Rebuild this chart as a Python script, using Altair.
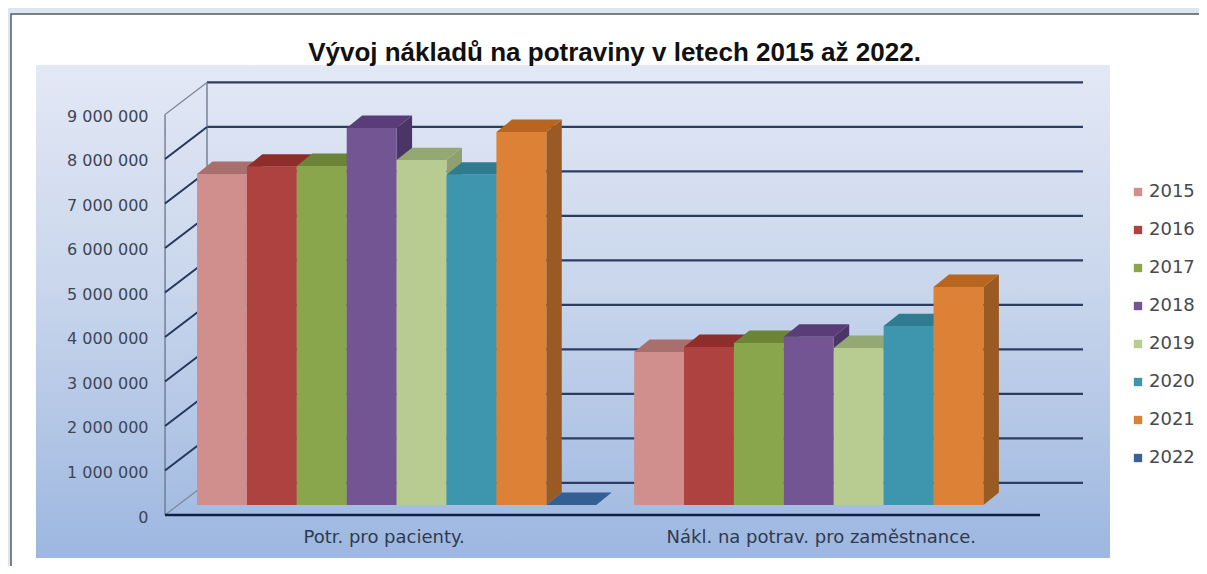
import altair as alt
import pandas as pd

TITLE = "Vývoj nákladů na potraviny v letech 2015 až 2022."
CATEGORIES = ["Potr. pro pacienty.", "Nákl. na potrav. pro zaměstnance."]
YEARS = ["2015", "2016", "2017", "2018", "2019", "2020", "2021", "2022"]
PATIENTS = [7440000, 7600000, 7620000, 8470000, 7750000, 7420000, 8380000, 0]
STAFF = [3440000, 3550000, 3640000, 3780000, 3530000, 4020000, 4900000, None]
TICKS = [0, 1000000, 2000000, 3000000, 4000000, 5000000, 6000000, 7000000, 8000000, 9000000]
FRONT = ["#d08f8d", "#ae4240", "#8aa64d", "#745594", "#b8cc92", "#3d96ae", "#dd8136", "#3a6296"]
TOP = ["#a86f6c", "#8f2d2a", "#6b8438", "#5a3d78", "#94a874", "#2f7b90", "#b8651f", "#345f92"]
SIDE = ["#9a5f5d", "#7f2b29", "#64803a", "#4b3566", "#8ea070", "#2b7186", "#9a5a24", "#2a4f7c"]

M = 1_000_000
GROUP_STARTS = [0.0, 8.76]
DX, DY = 0.31, 0.28 * M          # bar depth
BASE = 0.225 * M                 # bar foot above front floor edge
WALL_DY = 0.72 * M
AXIS_X, WALL_X = -0.641, 0.2
FLOOR_END, WALL_END = 16.894, 17.755

fronts, tops, sides = [], [], []
for g, series in enumerate([PATIENTS, STAFF]):
    for i, (yr, v) in enumerate(zip(YEARS, series)):
        if v is None:
            continue
        x0 = GROUP_STARTS[g] + i
        x1 = x0 + 1
        t = BASE + v
        bid = f"{g}-{yr}"
        fronts.append(dict(year=yr, x0=x0, x1=x1, y0=BASE, y1=t))
        for x, a, b in [(x0, t, t), (x0 + DX, t, t + DY), (x1, t, t + DY), (x1 + DX, t + DY, t + DY)]:
            tops.append(dict(bid=bid, c=TOP[i], x=x, a=a, b=b))
        if v > 0:
            for x, a, b in [(x1, BASE, t), (x1 + DX, BASE + DY, t + DY)]:
                sides.append(dict(bid=bid, c=SIDE[i], x=x, a=a, b=b))

xs = alt.Scale(domain=[-3.788, 20.08], nice=False, zero=False)
ys = alt.Scale(domain=[-1.146 * M, 11.393 * M], nice=False, zero=False)
AX = alt.Axis(
    orient="left", offset=-157, values=TICKS, title=None, domain=False, ticks=False,
    grid=False, zindex=1, labelFont="DejaVu Sans", labelFontSize=16, labelColor="#3c4656",
    labelPadding=17, labelOffset=2,
    labelExpr="replace(format(datum.value, ','), /,/g, ' ')")
X = lambda f: alt.X(f, type="quantitative", scale=xs, axis=None)
Y = lambda f: alt.Y(f, type="quantitative", scale=ys, axis=AX, stack=None)

panel_bg = alt.Chart(pd.DataFrame({"a": [0]})).mark_rect(
    color="#ffffff", stroke="#555b63", strokeWidth=1.5
).encode(x=alt.value(3), x2=alt.value(1230), y=alt.value(6), y2=alt.value(600))

plot_bg = alt.Chart(pd.DataFrame({"a": [0]})).mark_rect(
    color=alt.Gradient(
        gradient="linear", x1=0, y1=0, x2=0, y2=1,
        stops=[alt.GradientStop(color="#e3e8f5", offset=0),
               alt.GradientStop(color="#c9d6ec", offset=0.45),
               alt.GradientStop(color="#9db7e0", offset=1)],
    )
).encode(x=alt.value(28), x2=alt.value(1102), y=alt.value(57), y2=alt.value(550))

ticks_df = pd.DataFrame({"v": TICKS})
ticks_df["back"] = ticks_df.v + WALL_DY
ticks_df["ax"] = AXIS_X
ticks_df["wx"] = WALL_X
ticks_df["we"] = WALL_END
ticks_df["edge"] = ticks_df.v.isin([0, 9 * M])

grid = alt.Chart(ticks_df).mark_rule(color="#2c3d60", strokeWidth=2.3).encode(
    x=X("wx"), x2="we", y=Y("back"))
diag_dark = alt.Chart(ticks_df[~ticks_df.edge]).mark_rule(color="#24365a", strokeWidth=2).encode(
    x=X("ax"), x2="wx", y=Y("v"), y2="back")
diag_light = alt.Chart(ticks_df[ticks_df.edge]).mark_rule(color="#7b8798", strokeWidth=1.2).encode(
    x=X("ax"), x2="wx", y=Y("v"), y2="back")
verts = pd.DataFrame({"x": [AXIS_X, WALL_X], "a": [0, WALL_DY], "b": [9 * M, 9 * M + WALL_DY]})
vlines = alt.Chart(verts).mark_rule(color="#687488", strokeWidth=1.3).encode(
    x=X("x"), y=Y("a"), y2="b")
floor = alt.Chart(pd.DataFrame({"a": [AXIS_X], "b": [FLOOR_END], "y": [0]})).mark_rule(
    color="#0f1f45", strokeWidth=2.3).encode(x=X("a"), x2="b", y=Y("y"))

side_layer = alt.Chart(pd.DataFrame(sides)).mark_area(opacity=1, interpolate="linear").encode(
    x=X("x"), y=Y("a"), y2="b:Q",
    color=alt.Color("c:N", scale=None), detail="bid:N")
top_layer = alt.Chart(pd.DataFrame(tops)).mark_area(opacity=1, interpolate="linear").encode(
    x=X("x"), y=Y("a"), y2="b:Q",
    color=alt.Color("c:N", scale=None), detail="bid:N")

front_layer = alt.Chart(pd.DataFrame(fronts)).mark_rect().encode(
    x=X("x0"), x2="x1", y=Y("y0"), y2="y1",
    color=alt.Color("year:N", scale=alt.Scale(domain=YEARS, range=FRONT),
                    legend=alt.Legend(
                        title=None, orient="none", legendX=1121, legendY=175,
                        symbolType="square", symbolSize=70, symbolStrokeWidth=0,
                        labelFont="DejaVu Sans", labelFontSize=18, labelColor="#46494f",
                        rowPadding=20, labelOffset=2)),
)

cat_df = pd.DataFrame({"t": CATEGORIES, "x": [s + 3.75 for s in GROUP_STARTS]})
cat_text = alt.Chart(cat_df).mark_text(
    font="DejaVu Sans", fontSize=18, color="#2f3a50", baseline="middle"
).encode(x=X("x"), y=alt.value(530), text="t:N")

chart = alt.layer(
    panel_bg, plot_bg, grid, vlines, diag_dark, diag_light, floor,
    side_layer, top_layer, front_layer, cat_text,
).resolve_scale(color="independent").properties(
    width=1191, height=558, padding=0,
    autosize=alt.AutoSizeParams(type="none"),
    background="#dce6f1",
    title=alt.TitleParams(TITLE, font="Liberation Sans", fontSize=26, fontWeight="bold",
                          color="#111111", offset=-58, anchor="middle", dx=11),
).configure_view(stroke=None)

chart.save("out.html", embed_options={"renderer": "svg", "actions": False})
